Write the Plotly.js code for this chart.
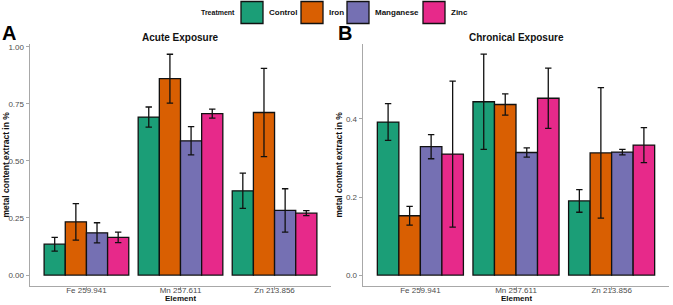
<!DOCTYPE html>
<html>
<head>
<meta charset="utf-8">
<script src="https://cdn.plot.ly/plotly-3.0.1.min.js"></script>
<style>html,body{margin:0;padding:0;background:#fff;}#chart{width:673px;height:305px;}</style>
</head>
<body>
<div id="chart"></div>
<script>
const elements = ["Fe 259.941", "Mn 257.611", "Zn 213.856"];
const treatments = ["Control", "Iron", "Manganese", "Zinc"];
const colors = ["#1B9E77", "#D95F02", "#7570B3", "#E7298A"];

// Acute exposure (panel A): means and error half-widths
const acuteControl = [0.135, 0.692, 0.369];
const acuteIron = [0.233, 0.860, 0.712];
const acuteManganese = [0.185, 0.588, 0.283];
const acuteZinc = [0.165, 0.707, 0.271];
const acuteControlErr = [0.030, 0.044, 0.077];
const acuteIronErr = [0.080, 0.107, 0.193];
const acuteManganeseErr = [0.044, 0.062, 0.095];
const acuteZincErr = [0.023, 0.020, 0.011];

// Chronical exposure (panel B)
const chronControl = [0.392, 0.444, 0.190];
const chronIron = [0.152, 0.437, 0.313];
const chronManganese = [0.329, 0.314, 0.315];
const chronZinc = [0.310, 0.453, 0.333];
const chronControlErr = [0.047, 0.122, 0.029];
const chronIronErr = [0.024, 0.027, 0.167];
const chronManganeseErr = [0.031, 0.012, 0.007];
const chronZincErr = [0.187, 0.077, 0.045];

const acuteTicks = [0, 0.25, 0.5, 0.75, 1.0];
const chronTicks = [0, 0.2, 0.4];

const acuteVals = [acuteControl, acuteIron, acuteManganese, acuteZinc];
const acuteErrs = [acuteControlErr, acuteIronErr, acuteManganeseErr, acuteZincErr];
const chronVals = [chronControl, chronIron, chronManganese, chronZinc];
const chronErrs = [chronControlErr, chronIronErr, chronManganeseErr, chronZincErr];

const W = 673, H = 305;
const px = v => v / W;
const py = v => 1 - v / H;
const FONT = "Liberation Sans, Arial, sans-serif";

const traces = [];
function addPanel(vals, errs, xa, ya) {
  treatments.forEach((t, i) => {
    traces.push({
      type: "bar", x: elements, y: vals[i], name: t,
      xaxis: xa, yaxis: ya, showlegend: false,
      marker: {color: colors[i], line: {color: "#111", width: 1.3}},
      error_y: {type: "data", array: errs[i], visible: true, color: "#111", thickness: 1.3, width: 3.2},
      hoverinfo: "y"
    });
  });
}
addPanel(acuteVals, acuteErrs, "x", "y");
addPanel(chronVals, chronErrs, "x2", "y2");

const lineCol = "#a8a8a8";
const tickFont = {family: FONT, size: 8, color: "#4d4d4d"};
function xax(domain, anchor) {
  return {domain: domain, range: [-0.6, 2.6], showline: true, linecolor: lineCol, linewidth: 1.4,
    ticks: "outside", ticklen: 3, tickcolor: lineCol, tickwidth: 1, tickfont: tickFont,
    ticklabelstandoff: -7,
    showgrid: false, zeroline: false, fixedrange: true, anchor: anchor};
}
function yax(domain, range, ticks, fmt, anchor) {
  return {domain: domain, range: range, showline: true, linecolor: lineCol, linewidth: 1.4,
    ticks: "outside", ticklen: 3, tickcolor: lineCol, tickwidth: 1, tickfont: tickFont,
    tickvals: ticks, ticktext: ticks.map(v => v.toFixed(fmt)),
    showgrid: false, zeroline: false, anchor: anchor, fixedrange: true};
}
const yDom = [(H - 286) / H, (H - 44) / H];

function ann(text, x, y, size, opts) {
  return Object.assign({text: text, xref: "paper", yref: "paper", x: px(x), y: py(y), showarrow: false,
    font: {family: FONT, size: size, color: "#111"}, xanchor: "center", yanchor: "middle"}, opts || {});
}
const annotations = [
  ann("<b>Acute Exposure</b>", 180.5, 37, 10),
  ann("<b>Chronical Exposure</b>", 516, 37, 10),
  ann("<b>A</b>", 0, 33.5, 20, {xanchor: "left", height: 16, font: {family: FONT, size: 20, color: "#000"}}),
  ann("<b>B</b>", 336, 33.5, 20, {xanchor: "left", height: 16, font: {family: FONT, size: 20, color: "#000"}}),
  ann("<b>Element</b>", 180.5, 305, 8, {yanchor: "bottom", height: 9}),
  ann("<b>Element</b>", 516, 305, 8, {yanchor: "bottom", height: 9}),
  ann("<b>metal content extract in %</b>", 5.5, 165, 8.5, {textangle: -90}),
  ann("<b>metal content extract in %</b>", 338.5, 165, 8.5, {textangle: -90}),
  ann("<b>Treatment</b>", 237, 12.5, 7, {xanchor: "right"})
];
const shapes = [];
const boxLeft = [241, 301, 347, 423];
treatments.forEach((t, i) => {
  shapes.push({type: "rect", xref: "paper", yref: "paper",
    x0: px(boxLeft[i]), x1: px(boxLeft[i] + 22), y0: py(23.5), y1: py(1.5),
    fillcolor: colors[i], line: {color: "#111", width: 1.3}});
  annotations.push(ann("<b>" + t + "</b>", boxLeft[i] + 26, 12.5, 8, {xanchor: "left"}));
});

const layout = {
  width: W, height: H, margin: {l: 0, r: 0, t: 0, b: 0},
  paper_bgcolor: "#fff", plot_bgcolor: "#fff",
  barmode: "group", bargap: 0.1, bargroupgap: 0,
  showlegend: false,
  xaxis: xax([px(30), px(331)], "y"),
  yaxis: yax(yDom, [-0.048, 1.012], acuteTicks, 2, "x"),
  xaxis2: xax([px(363), px(669)], "y2"),
  yaxis2: yax(yDom, [-0.028, 0.592], chronTicks, 1, "x2"),
  annotations: annotations, shapes: shapes
};
Plotly.newPlot("chart", traces, layout, {displayModeBar: false, staticPlot: true});
</script>
</body>
</html>
